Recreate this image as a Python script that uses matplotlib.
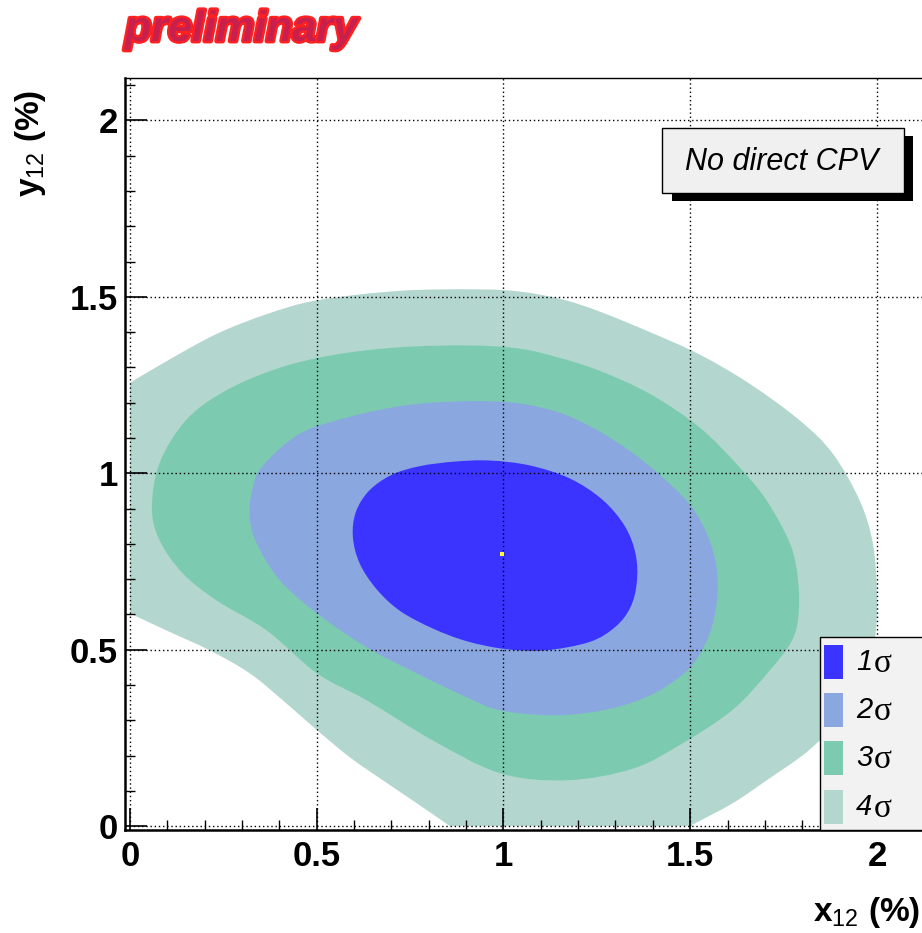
import matplotlib
matplotlib.use("Agg")
import numpy as np
import matplotlib.pyplot as plt
import matplotlib.patheffects as pe
from matplotlib.patches import Rectangle, PathPatch
from matplotlib.path import Path
from matplotlib.ticker import MultipleLocator

plt.rcParams['font.family'] = ['Liberation Sans', 'DejaVu Sans']
plt.rcParams['mathtext.fontset'] = 'custom'
plt.rcParams['mathtext.rm'] = 'Liberation Sans'
plt.rcParams['mathtext.bf'] = 'Liberation Sans:bold'
plt.rcParams['mathtext.it'] = 'Liberation Sans:italic'

# ---- data: contour outlines (x12 %, y12 %) ----
sigma1_x = [0.870, 0.964, 1.071, 1.178, 1.265, 1.325, 1.354, 1.357, 1.340, 1.300,
            1.231, 1.111, 1.004, 0.902, 0.811, 0.723, 0.660, 0.615, 0.597, 0.605,
            0.640, 0.700, 0.776]
sigma1_y = [1.033, 1.036, 1.022, 0.985, 0.925, 0.850, 0.770, 0.690, 0.620, 0.565,
            0.522, 0.498, 0.502, 0.524, 0.560, 0.610, 0.672, 0.745, 0.820, 0.890,
            0.950, 0.995, 1.020]

sigma2_x = [0.964, 1.060, 1.160, 1.258, 1.345, 1.419, 1.500, 1.550, 1.572, 1.570,
            1.548, 1.500, 1.419, 1.330, 1.231, 1.124, 0.991, 0.902, 0.768, 0.635,
            0.501, 0.402, 0.340, 0.321, 0.327, 0.355, 0.455, 0.589, 0.723, 0.843]
sigma2_y = [1.204, 1.195, 1.168, 1.118, 1.058, 0.995, 0.910, 0.815, 0.720, 0.625,
            0.535, 0.450, 0.385, 0.345, 0.322, 0.314, 0.328, 0.365, 0.433, 0.506,
            0.603, 0.696, 0.800, 0.874, 0.950, 1.020, 1.112, 1.160, 1.190, 1.202]

sigma3_x = [0.910, 1.044, 1.150, 1.258, 1.392, 1.526, 1.633, 1.705, 1.767, 1.788,
            1.790, 1.772, 1.712, 1.614, 1.480, 1.347, 1.170, 0.991, 0.811, 0.635,
            0.501, 0.367, 0.233, 0.142, 0.080, 0.059, 0.080, 0.150, 0.250, 0.390,
            0.544, 0.723]
sigma3_y = [1.362, 1.353, 1.327, 1.290, 1.225, 1.129, 1.016, 0.922, 0.801, 0.704,
            0.600, 0.525, 0.440, 0.330, 0.235, 0.163, 0.130, 0.150, 0.243, 0.356,
            0.433, 0.554, 0.639, 0.716, 0.809, 0.902, 1.030, 1.150, 1.230, 1.295,
            1.335, 1.357]

sigma4_x = [0.000, 0.099, 0.233, 0.367, 0.501, 0.723, 0.937, 1.050, 1.160, 1.258,
            1.392, 1.526, 1.660, 1.794, 1.882, 1.954, 1.989, 2.000, 1.995, 1.968,
            1.914, 1.847, 1.794, 1.705, 1.614, 1.499, 0.857, 0.768, 0.677, 0.589,
            0.501, 0.410, 0.321, 0.214, 0.099, 0.000]
sigma4_y = [1.256, 1.318, 1.395, 1.451, 1.490, 1.517, 1.521, 1.514, 1.492, 1.458,
            1.400, 1.336, 1.253, 1.149, 1.055, 0.922, 0.801, 0.659, 0.535, 0.413,
            0.314, 0.243, 0.195, 0.130, 0.065, 0.000, 0.000, 0.065, 0.130, 0.195,
            0.272, 0.356, 0.433, 0.498, 0.554, 0.603]
sigma4_edges = [25, 35]   # outline segments lying on the histogram boundary

best_x = [0.996]
best_y = [0.772]

legend_labels = ['1', '2', '3', '4']
colors = ['#3b33ff', '#8aa7df', '#7ccbb0', '#b3d6cf']


def smooth_outline(xs, ys, straight=()):
    """Closed outline through the read points, drawn as matplotlib Bezier path."""
    P = np.column_stack([xs, ys]).astype(float)
    n = len(P)
    straight = set(straight)
    verts = [P[0]]
    codes = [Path.MOVETO]
    for i in range(n):
        b, c = P[i], P[(i + 1) % n]
        if i in straight:
            verts.append(c)
            codes.append(Path.LINETO)
            continue
        a = P[i - 1] if (i - 1) % n not in straight else b - (c - b)
        d = P[(i + 2) % n] if (i + 1) % n not in straight else c + (c - b)
        verts += [b + (c - a) / 6.0, c - (d - b) / 6.0, c]
        codes += [Path.CURVE4] * 3
    verts.append(P[0])
    codes.append(Path.CLOSEPOLY)
    return Path(np.array(verts), codes)


# ---- figure ----
W, H = 922, 933
fig = plt.figure(figsize=(W / 100, H / 100), dpi=100)
ax = fig.add_axes([125 / W, 1 - 830 / H, (933 - 125) / W, (830 - 78) / H])
ax.set_xlim(-0.013, 2.15)
ax.set_ylim(-0.011, 2.12)

clip = Rectangle((0, 0), 5, 5, transform=ax.transData, facecolor='none', edgecolor='none')
ax.add_patch(clip)
outlines = [(sigma4_x, sigma4_y, sigma4_edges), (sigma3_x, sigma3_y, ()),
            (sigma2_x, sigma2_y, ()), (sigma1_x, sigma1_y, ())]
for (cx, cy, st), col in zip(outlines, colors[::-1]):
    patch = PathPatch(smooth_outline(cx, cy, st), facecolor=col, edgecolor='none', lw=0, zorder=1)
    ax.add_patch(patch)
    patch.set_clip_path(clip)
ax.plot(best_x, best_y, 's', color='#ffff30', ms=2.5, mew=0, zorder=3)

ax.xaxis.set_major_locator(MultipleLocator(0.5))
ax.xaxis.set_minor_locator(MultipleLocator(0.1))
ax.yaxis.set_major_locator(MultipleLocator(0.5))
ax.yaxis.set_minor_locator(MultipleLocator(0.1))
ax.xaxis.set_major_formatter(plt.FuncFormatter(lambda v, p: f'{v:g}'))
ax.yaxis.set_major_formatter(plt.FuncFormatter(lambda v, p: f'{v:g}'))
ax.tick_params(which='major', direction='in', length=16, width=1.2, labelsize=25, pad=7)
ax.tick_params(which='minor', direction='in', length=7.5, width=1.0)
ax.tick_params(axis='y', which='major', pad=5)
for lab in ax.get_xticklabels() + ax.get_yticklabels():
    lab.set_fontweight('bold')
ax.grid(True, which='major', color='black', linestyle=(0, (1, 2)), lw=1.0, zorder=2)
ax.set_axisbelow(False)
for s in ['left', 'bottom']:
    ax.spines[s].set_linewidth(1.8)
ax.spines['top'].set_linewidth(1.0)

# axis titles
fig.text(920 / W, 1 - 921 / H, r'x$_{\mathrm{12}}$ (%)', ha='right', va='baseline',
         fontsize=24, fontweight='bold')
fig.text(13 / W, 1 - 90 / H, r'y$_{\mathrm{12}}$ (%)', ha='left', va='top', rotation=90,
         fontsize=24, fontweight='bold')

# preliminary
fig.text(125 / W, 1 - 41 / H, 'preliminary', ha='left', va='baseline', fontsize=31,
         fontweight='bold', style='italic', color='#c8204e',
         path_effects=[pe.withStroke(linewidth=3.5, foreground='#ff2020')])

# "No direct CPV" box with shadow
def fig_rect(x0, y0, x1, y1, **kw):
    r = Rectangle((x0 / W, 1 - y1 / H), (x1 - x0) / W, (y1 - y0) / H,
                  transform=fig.transFigure, **kw)
    fig.add_artist(r)

fig_rect(672, 136, 913, 201, facecolor='black', edgecolor='black', lw=0, zorder=5)
fig_rect(662, 128, 904, 193, facecolor='#f0f0f0', edgecolor='black', lw=1.0, zorder=6)
fig.text(782 / W, 1 - 162 / H, 'No direct CPV', ha='center', va='center', fontsize=22,
         style='italic', zorder=7)

# legend box
fig_rect(820, 637, 940, 830, facecolor='#f2f2f2', edgecolor='black', lw=1.0, zorder=5)
row_tops = [645, 693, 741, 790]
for lab, col, top in zip(legend_labels, colors, row_tops):
    fig_rect(824, top, 843, top + 34, facecolor=col, edgecolor='none', zorder=6)
    yc = 1 - (top + 17) / H
    fig.text(856 / W, yc, lab, ha='left', va='center', fontsize=21, style='italic', zorder=7)
    fig.text(874 / W, yc - 0.002, 'σ', ha='left', va='center', fontsize=24,
             family=['Liberation Serif', 'DejaVu Serif'], zorder=7)

fig.savefig('out.png', dpi=100)
